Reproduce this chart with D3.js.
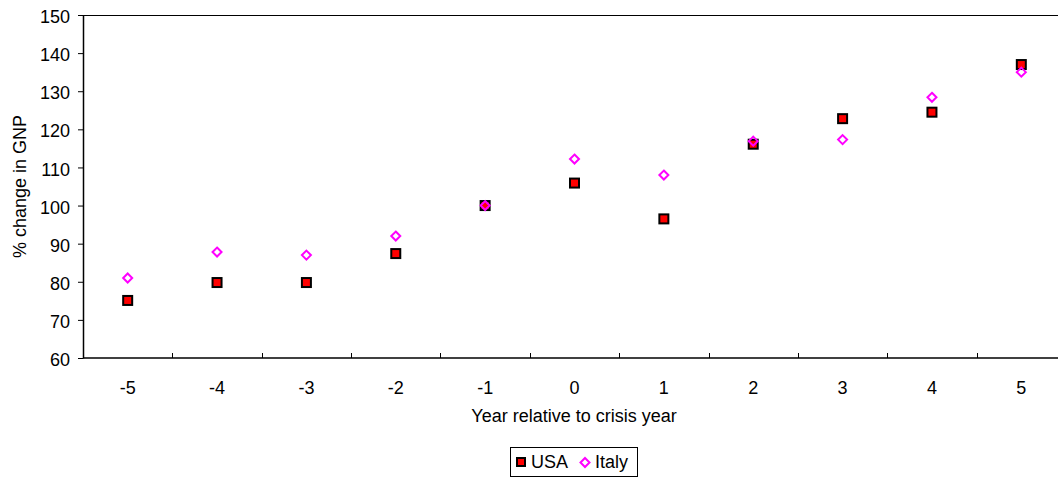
<!DOCTYPE html>
<html>
<head>
<meta charset="utf-8">
<script src="https://cdn.jsdelivr.net/npm/d3@7"></script>
<style>
  html, body { margin: 0; padding: 0; background: #fff; }
  svg { display: block; font-family: "Liberation Sans", Arial, sans-serif; }
</style>
</head>
<body>
<svg id="chart" width="1058" height="478"></svg>
<script>
// Years relative to the crisis year
const years = [-5, -4, -3, -2, -1, 0, 1, 2, 3, 4, 5];
// GNP index (crisis year - 1 = 100)
const usaValues = [75.1, 79.8, 79.8, 87.4, 100.0, 105.9, 96.5, 116.1, 122.8, 124.5, 137.0];
const italyValues = [81.0, 87.8, 87.0, 92.0, 100.0, 112.2, 108.0, 116.9, 117.3, 128.4, 135.0];
const yTicks = [60, 70, 80, 90, 100, 110, 120, 130, 140, 150];

const svg = d3.select("#chart");
const plotLeft = 83, plotRight = 1066, plotTop = 15, plotBottom = 358;
const fontSize = 18;

const x = d3.scaleBand().domain(years).range([plotLeft, plotRight]);
const y = d3.scaleLinear().domain([60, 150]).range([plotBottom, plotTop]);

// Top frame line
svg.append("line")
  .attr("x1", plotLeft).attr("x2", plotRight).attr("y1", plotTop + 0.5).attr("y2", plotTop + 0.5)
  .attr("stroke", "#000").attr("stroke-width", 1.2);

// Y axis
const yAxis = svg.append("g")
  .attr("transform", `translate(${plotLeft},0)`)
  .call(d3.axisLeft(y).tickValues(yTicks).tickSize(5).tickSizeOuter(0).tickPadding(8));
yAxis.select(".domain").attr("stroke", "#000").attr("stroke-width", 1.5);
yAxis.selectAll(".tick line").attr("stroke", "#000");
yAxis.selectAll("text").attr("font-size", fontSize).attr("fill", "#000").attr("dy", "0.42em")
  .attr("font-family", "Liberation Sans, Arial, sans-serif");

// X axis with tick marks between categories, pointing inward
const xAxis = svg.append("g")
  .attr("transform", `translate(0,${plotBottom})`)
  .call(d3.axisBottom(x).tickSize(0).tickPadding(23));
xAxis.select(".domain").attr("stroke", "#000").attr("stroke-width", 1.5)
  .attr("d", `M${plotLeft},0H${plotRight}`);
xAxis.selectAll("text").attr("font-size", fontSize).attr("fill", "#000")
  .attr("font-family", "Liberation Sans, Arial, sans-serif");
xAxis.selectAll(".sep")
  .data(years.slice(1))
  .enter().append("line")
  .attr("class", "sep")
  .attr("x1", d => Math.round(x(d)) + 0.5).attr("x2", d => Math.round(x(d)) + 0.5)
  .attr("y1", 0).attr("y2", -5)
  .attr("stroke", "#000");

// Axis titles
svg.append("text")
  .attr("x", 574).attr("y", 422)
  .attr("text-anchor", "middle").attr("font-size", fontSize)
  .text("Year relative to crisis year");
svg.append("text")
  .attr("transform", `translate(26,${(plotTop + plotBottom) / 2}) rotate(-90)`)
  .attr("text-anchor", "middle").attr("font-size", fontSize)
  .text("% change in GNP");

// USA: red squares with black border
svg.append("g").selectAll("rect")
  .data(years.map((d, i) => ({ year: d, v: usaValues[i] })))
  .enter().append("rect")
  .attr("x", d => x(d.year) + x.bandwidth() / 2 - 4.5)
  .attr("y", d => y(d.v) - 4.5)
  .attr("width", 9).attr("height", 9)
  .attr("fill", "#ff0000").attr("stroke", "#000").attr("stroke-width", 2);

// Italy: hollow magenta diamonds
const diamond = "M0,-4.5L4.5,0L0,4.5L-4.5,0Z";
svg.append("g").selectAll("path")
  .data(years.map((d, i) => ({ year: d, v: italyValues[i] })))
  .enter().append("path")
  .attr("d", diamond)
  .attr("transform", d => `translate(${x(d.year) + x.bandwidth() / 2},${y(d.v)})`)
  .attr("fill", "none").attr("stroke", "#ff00ff").attr("stroke-width", 2);

// Legend
const lg = svg.append("g");
lg.append("rect").attr("x", 510.5).attr("y", 447.5).attr("width", 127).attr("height", 29)
  .attr("fill", "#fff").attr("stroke", "#000").attr("stroke-width", 1);
lg.append("rect").attr("x", 517).attr("y", 458).attr("width", 8).attr("height", 8)
  .attr("fill", "#ff0000").attr("stroke", "#000").attr("stroke-width", 2);
lg.append("text").attr("x", 531).attr("y", 468).attr("font-size", fontSize).text("USA");
lg.append("path").attr("d", diamond)
  .attr("transform", "translate(585,462.5)")
  .attr("fill", "none").attr("stroke", "#ff00ff").attr("stroke-width", 2);
lg.append("text").attr("x", 595).attr("y", 468).attr("font-size", fontSize).text("Italy");
</script>
</body>
</html>
